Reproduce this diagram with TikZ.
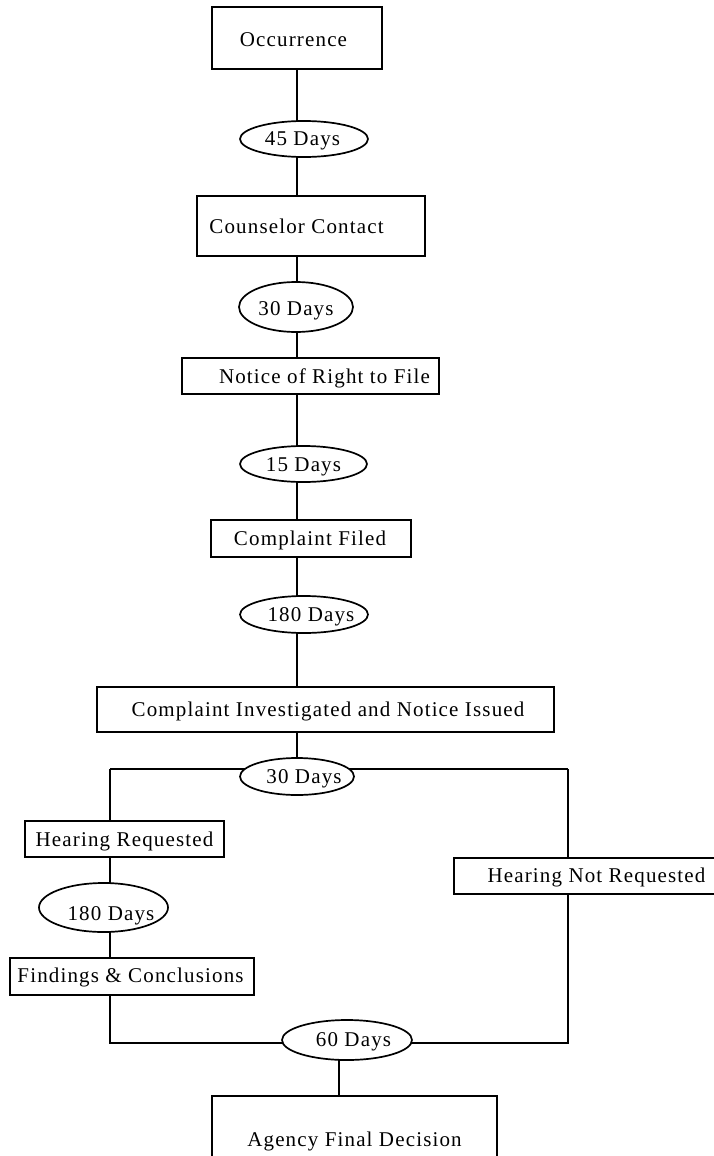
\documentclass[tikz,border=0pt]{standalone}
\usepackage{fontspec}
\setmainfont{Liberation Serif}[LetterSpace=5.5]
\usetikzlibrary{shapes.geometric}
\pgfdeclarelayer{background}
\pgfsetlayers{background,main}
% label: #1 = x shift, #2 = y shift (down), #3 = text
\newcommand\lbl[3]{\makebox[0pt]{\raisebox{\dimexpr-6.9pt-#2\relax}[0pt][0pt]{\hspace*{#1}#3\hspace*{-#1}}}}
\tikzset{
  every node/.style={font=\fontsize{21}{25}\selectfont},
  stepbox/.style={draw, line width=1.7pt, fill=white, rectangle, inner sep=0pt},
  dayoval/.style={draw, line width=1.7pt, fill=white, ellipse, inner sep=0pt},
  link/.style={line width=1.7pt}
}
\begin{document}
\begin{tikzpicture}[x=1pt,y=-1pt]
\useasboundingbox (0,0) rectangle (714,1156);
\clip (0,0) rectangle (714,1156);

\node[stepbox, minimum width=170pt, minimum height=62pt] (occ) at (297,38) {\lbl{-3.5pt}{1.5pt}{Occurrence}};
\node[dayoval, minimum width=128pt, minimum height=36pt] (d45) at (304,139) {\lbl{-1.5pt}{0pt}{45 Days}};
\node[stepbox, minimum width=228pt, minimum height=60pt] (cc) at (311,226) {\lbl{-14.5pt}{1pt}{Counselor Contact}};
\node[dayoval, minimum width=114pt, minimum height=50pt] (d30a) at (296,307) {\lbl{0pt}{2pt}{30 Days}};
\node[stepbox, minimum width=257pt, minimum height=36pt] (notice) at (310.5,376) {\lbl{14pt}{1pt}{Notice of Right to File}};
\node[dayoval, minimum width=127pt, minimum height=36pt] (d15) at (303.5,464) {\lbl{0pt}{0.5pt}{15 Days}};
\node[stepbox, minimum width=200pt, minimum height=37pt] (cf) at (311,538.5) {\lbl{-1pt}{0.5pt}{Complaint Filed}};
\node[dayoval, minimum width=128pt, minimum height=37pt] (d180a) at (304,614.5) {\lbl{7pt}{0pt}{180 Days}};
\node[stepbox, minimum width=457pt, minimum height=45pt] (civ) at (325.5,709.5) {\lbl{2.5pt}{0.5pt}{Complaint Investigated and Notice Issued}};
\node[dayoval, minimum width=114pt, minimum height=37pt] (d30b) at (297,776.5) {\lbl{7pt}{0pt}{30 Days}};
\node[stepbox, minimum width=199pt, minimum height=36pt] (hr) at (124.5,839) {\lbl{0pt}{0.5pt}{Hearing Requested}};
\node[stepbox, minimum width=285pt, minimum height=36pt] (hnr) at (596.5,876) {\lbl{0pt}{0pt}{Hearing Not Requested}};
\node[dayoval, minimum width=129pt, minimum height=49pt] (d180b) at (103.5,907.5) {\lbl{7.5pt}{6pt}{180 Days}};
\node[stepbox, minimum width=244pt, minimum height=37pt] (fc) at (132,976.5) {\lbl{-1.5pt}{-1pt}{Findings \& Conclusions}};
\node[dayoval, minimum width=130pt, minimum height=40pt] (d60) at (347,1040) {\lbl{6.5pt}{0pt}{60 Days}};
\node[stepbox, minimum width=285pt, minimum height=88pt] (afd) at (354.5,1140) {\lbl{0pt}{0pt}{Agency Final Decision}};

\coordinate (bl) at (110,769);
\coordinate (br) at (568,769);
\coordinate (j) at (110,1043);
\coordinate (k) at (339,1043);

\begin{pgfonlayer}{background}
\draw[link] (occ.south) -- (occ.south |- cc.north);
\draw[link] (occ.south |- cc.south) -- (occ.south |- notice.north);
\draw[link] (occ.south |- notice.south) -- (occ.south |- cf.north);
\draw[link] (occ.south |- cf.south) -- (occ.south |- civ.north);
\draw[link] (occ.south |- civ.south) -- (occ.south |- d30b.center);
\draw[link] (bl) -- (br);
\draw[link] (bl) -- (bl |- hr.north);
\draw[link] (br) -- (br |- hnr.north);
\draw[link] (bl |- hr.south) -- (bl |- fc.north);
\draw[link] (bl |- fc.south) -- (j) -- (j -| br) -- (br |- hnr.south);
\draw[link] (k) -- (k |- afd.north);
\end{pgfonlayer}
\end{tikzpicture}
\end{document}
